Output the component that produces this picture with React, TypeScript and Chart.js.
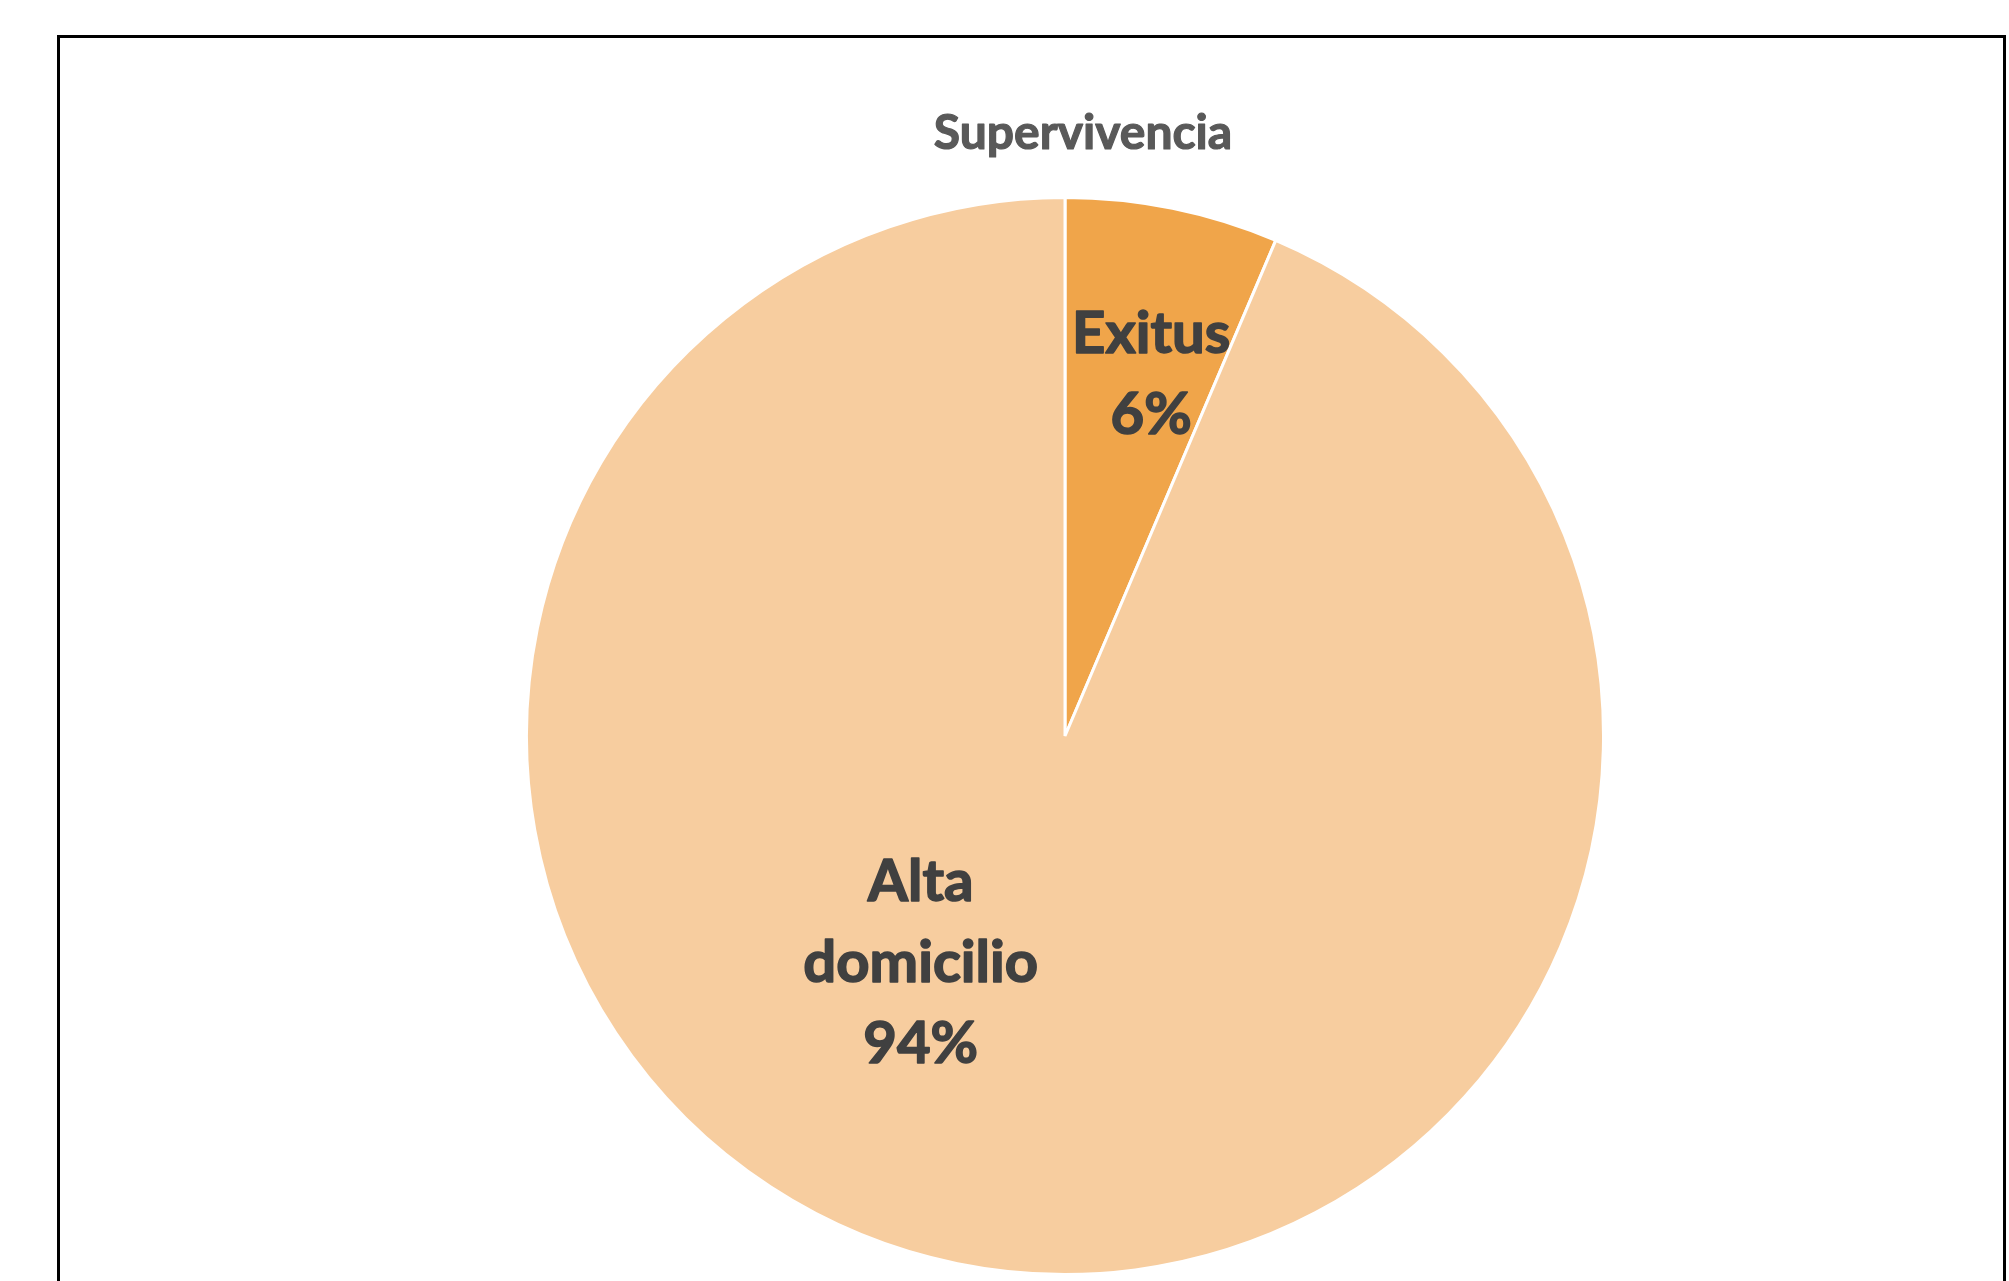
import React, { useEffect, useRef } from "react";
import { Chart, registerables } from "chart.js";

Chart.register(...registerables);

const titleText = "Supervivencia";
const categories = ["Exitus", "Alta domicilio"];
const labelLines = [["Exitus"], ["Alta", "domicilio"]];
const values = [6.4, 93.6];
const colors = ["#F0A54A", "#F7CD9F"];

// label anchor offsets in units of the pie radius (relative to the pie center)
const labelOffsets = [
  [0.16, -0.67],
  [-0.268, 0.423],
];

const overlayPlugin = {
  id: "overlay",
  afterDatasetsDraw(chart: any) {
    const ctx = chart.ctx;
    const meta = chart.getDatasetMeta(0);
    const arc0 = meta.data[0] as any;
    const cx = arc0.x;
    const cy = arc0.y;
    const r = arc0.outerRadius;
    const total = values.reduce((a, b) => a + b, 0);
    ctx.save();
    ctx.textAlign = "center";
    ctx.textBaseline = "middle";
    ctx.lineJoin = "round";
    // title
    ctx.fillStyle = "#595959";
    ctx.strokeStyle = "#595959";
    ctx.lineWidth = 1.2;
    ctx.font = "bold 48px Lato";
    ctx.fillText(titleText, cx + 18, 134);
    ctx.strokeText(titleText, cx + 18, 134);
    // data labels
    ctx.fillStyle = "#404040";
    ctx.strokeStyle = "#404040";
    ctx.lineWidth = 1.6;
    ctx.font = "bold 58px Lato";
    const lh = 81;
    values.forEach((v, i) => {
      const lines = [...labelLines[i], Math.round((v / total) * 100) + "%"];
      const x = cx + labelOffsets[i][0] * r;
      const y = cy + labelOffsets[i][1] * r;
      const startY = y - ((lines.length - 1) * lh) / 2;
      lines.forEach((t, k) => {
        ctx.fillText(t, x, startY + k * lh);
        ctx.strokeText(t, x, startY + k * lh);
      });
    });
    ctx.restore();
  },
};

export default function App() {
  const ref = useRef<HTMLCanvasElement>(null);
  useEffect(() => {
    if (!ref.current) return;
    const chart = new Chart(ref.current, {
      type: "pie",
      data: {
        labels: categories,
        datasets: [
          {
            data: values,
            backgroundColor: colors,
            borderColor: "#FFFFFF",
            borderWidth: 3,
          },
        ],
      },
      options: {
        responsive: false,
        animation: false,
        layout: { padding: { top: 196, bottom: 5, left: 121, right: 0 } },
        plugins: {
          legend: { display: false },
          tooltip: { enabled: false },
          title: { display: false },
        },
      },
      plugins: [overlayPlugin],
    });
    return () => chart.destroy();
  }, []);
  return (
    <div style={{ position: "absolute", left: 0, top: 0, width: 2009, height: 1281, overflow: "hidden", background: "#fff" }}>
      <div
        style={{
          position: "absolute",
          left: 57,
          top: 35,
          width: 1943,
          height: 1400,
          border: "3px solid #000",
        }}
      />
      <canvas ref={ref} width={2009} height={1281} style={{ position: "absolute", left: 0, top: 0 }} />
    </div>
  );
}
